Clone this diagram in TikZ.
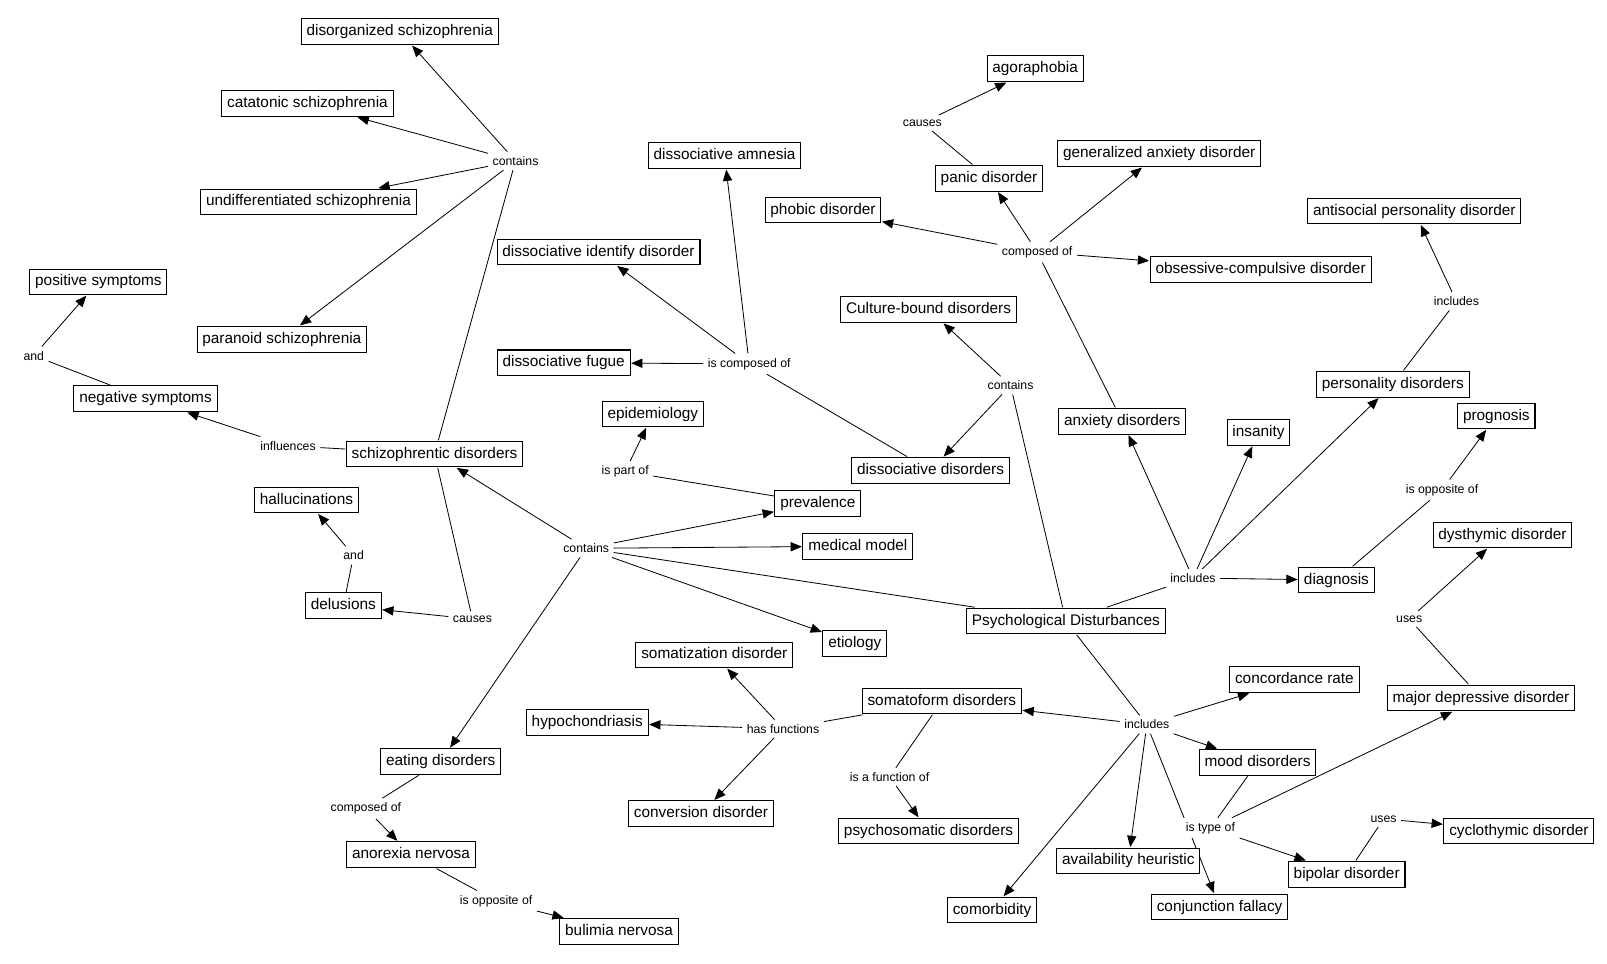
\documentclass[tikz,border=0pt]{standalone}
\usepackage{fontspec}
\setmainfont{Liberation Sans}
\usetikzlibrary{arrows.meta,backgrounds}
\tikzset{
  concept/.style={draw,fill=white,font=\fontsize{7.5}{9}\selectfont,inner xsep=2.6pt,inner ysep=0pt,minimum height=12.5pt,text height=5.6pt,text depth=1.6pt,outer sep=0.5pt},
  link/.style={fill=white,font=\fontsize{6}{7}\selectfont,inner sep=2pt},
}
\begin{document}
\begin{tikzpicture}[x=0.5pt,y=-0.5pt,line width=0.5pt,>={Triangle[length=5.5pt,width=4.5pt]}]
\useasboundingbox (0,0) rectangle (1568,940);
\node[concept] (c1) at (390,31) {disorganized schizophrenia};
\node[concept] (c2) at (300,101) {catatonic schizophrenia};
\node[concept] (c3) at (301,197) {undifferentiated schizophrenia};
\node[concept] (c4) at (96,275) {positive symptoms};
\node[concept] (c5) at (275,331) {paranoid schizophrenia};
\node[concept] (c6) at (142,389) {negative symptoms};
\node[concept] (c7) at (424,443) {schizophrentic disorders};
\node[concept] (c8) at (299,488) {hallucinations};
\node[concept] (c9) at (335,591) {delusions};
\node[concept] (c10) at (707,152) {dissociative amnesia};
\node[concept] (c11) at (584,246) {dissociative identify disorder};
\node[concept] (c12) at (550,354) {dissociative fugue};
\node[concept] (c13) at (637,404) {epidemiology};
\node[concept] (c14) at (798,491) {prevalence};
\node[concept] (c15) at (837,533) {medical model};
\node[concept] (c16) at (834,628) {etiology};
\node[concept] (c17) at (1010,67) {agoraphobia};
\node[concept] (c18) at (965,174) {panic disorder};
\node[concept] (c19) at (803,205) {phobic disorder};
\node[concept] (c20) at (1131,150) {generalized anxiety disorder};
\node[concept] (c21) at (1230,263) {obsessive-compulsive disorder};
\node[concept] (c22) at (906,302) {Culture-bound disorders};
\node[concept] (c23) at (908,459) {dissociative disorders};
\node[concept] (c24) at (1095,411) {anxiety disorders};
\node[concept] (c25) at (1228,422) {insanity};
\node[concept] (c26) at (1380,206) {antisocial personality disorder};
\node[concept] (c27) at (1359,375) {personality disorders};
\node[concept] (c28) at (1460,406) {prognosis};
\node[concept] (c29) at (1466,522) {dysthymic disorder};
\node[concept] (c30) at (1304,566) {diagnosis};
\node[concept] (c31) at (1040,606) {Psychological Disturbances};
\node[concept] (c32) at (697,639) {somatization disorder};
\node[concept] (c33) at (573,705) {hypochondriasis};
\node[concept] (c34) at (919,684) {somatoform disorders};
\node[concept] (c35) at (684,794) {conversion disorder};
\node[concept] (c36) at (906,811) {psychosomatic disorders};
\node[concept] (c37) at (430,743) {eating disorders};
\node[concept] (c38) at (401,834) {anorexia nervosa};
\node[concept] (c39) at (604,909) {bulimia nervosa};
\node[concept] (c40) at (1263,663) {concordance rate};
\node[concept] (c41) at (1445,681) {major depressive disorder};
\node[concept] (c42) at (1227,744) {mood disorders};
\node[concept] (c43) at (1482,811) {cyclothymic disorder};
\node[concept] (c44) at (1314,853) {bipolar disorder};
\node[concept] (c45) at (1101,840) {availability heuristic};
\node[concept] (c46) at (1190,885) {conjunction fallacy};
\node[concept] (c47) at (968,888) {comorbidity};
\node[link] (l1) at (503,157) {contains};
\node[link] (l2) at (33,347) {and};
\node[link] (l3) at (281,435) {influences};
\node[link] (l4) at (345,542) {and};
\node[link] (l5) at (461,604) {causes};
\node[link] (l6) at (572,535) {contains};
\node[link] (l7) at (731,355) {is composed of};
\node[link] (l8) at (610,460) {is part of};
\node[link] (l9) at (900,120) {causes};
\node[link] (l10) at (1012,246) {composed of};
\node[link] (l11) at (986,376) {contains};
\node[link] (l12) at (1421,294) {includes};
\node[link] (l13) at (1164,564) {includes};
\node[link] (l14) at (1407,478) {is opposite of};
\node[link] (l15) at (1375,604) {uses};
\node[link] (l16) at (764,711) {has functions};
\node[link] (l17) at (868,758) {is a function of};
\node[link] (l18) at (1119,707) {includes};
\node[link] (l19) at (1181,808) {is type of};
\node[link] (l20) at (1350,799) {uses};
\node[link] (l21) at (357,789) {composed of};
\node[link] (l22) at (484,879) {is opposite of};
\begin{scope}[on background layer]
\draw  (c7) edge (l1);
\draw[->]  (l1) edge (c1);
\draw[->]  (l1) edge (c2);
\draw[->]  (l1) edge (c3);
\draw[->]  (l1) edge (c5);
\draw  (c7) edge (l3);
\draw[->]  (l3) edge (c6);
\draw  (c6) edge (l2);
\draw[->]  (l2) edge (c4);
\draw  (c7) edge (l5);
\draw[->]  (l5) edge (c9);
\draw  (c9) edge (l4);
\draw[->]  (l4) edge (c8);
\draw  (c31) edge (l6);
\draw[->]  (l6) edge (c7);
\draw[->]  (l6) edge (c14);
\draw[->]  (l6) edge (c15);
\draw[->]  (l6) edge (c16);
\draw[->]  (l6) edge (c37);
\draw  (c14) edge (l8);
\draw[->]  (l8) edge (c13);
\draw  (c23) edge (l7);
\draw[->]  (l7) edge (c10);
\draw[->]  (l7) edge (c11);
\draw[->]  (l7) edge (c12);
\draw  (c31) edge (l11);
\draw[->]  (l11) edge (c22);
\draw[->]  (l11) edge (c23);
\draw  (c24) edge (l10);
\draw[->]  (l10) edge (c18);
\draw[->]  (l10) edge (c19);
\draw[->]  (l10) edge (c20);
\draw[->]  (l10) edge (c21);
\draw  (c18) edge (l9);
\draw[->]  (l9) edge (c17);
\draw  (c31) edge (l13);
\draw[->]  (l13) edge (c24);
\draw[->]  (l13) edge (c25);
\draw[->]  (l13) edge (c27);
\draw[->]  (l13) edge (c30);
\draw  (c27) edge (l12);
\draw[->]  (l12) edge (c26);
\draw  (c30) edge (l14);
\draw[->]  (l14) edge (c28);
\draw  (c31) edge (l18);
\draw[->]  (l18) edge (c34);
\draw[->]  (l18) edge (c40);
\draw[->]  (l18) edge (c42);
\draw[->]  (l18) edge (c45);
\draw[->]  (l18) edge (c46);
\draw[->]  (l18) edge (c47);
\draw  (c34) edge (l16);
\draw[->]  (l16) edge (c32);
\draw[->]  (l16) edge (c33);
\draw[->]  (l16) edge (c35);
\draw  (c34) edge (l17);
\draw[->]  (l17) edge (c36);
\draw  (c42) edge (l19);
\draw[->]  (l19) edge (c41);
\draw[->]  (l19) edge (c44);
\draw  (c41) edge (l15);
\draw[->]  (l15) edge (c29);
\draw  (c44) edge (l20);
\draw[->]  (l20) edge (c43);
\draw  (c37) edge (l21);
\draw[->]  (l21) edge (c38);
\draw  (c38) edge (l22);
\draw[->]  (l22) edge (c39);
\end{scope}
\end{tikzpicture}
\end{document}
